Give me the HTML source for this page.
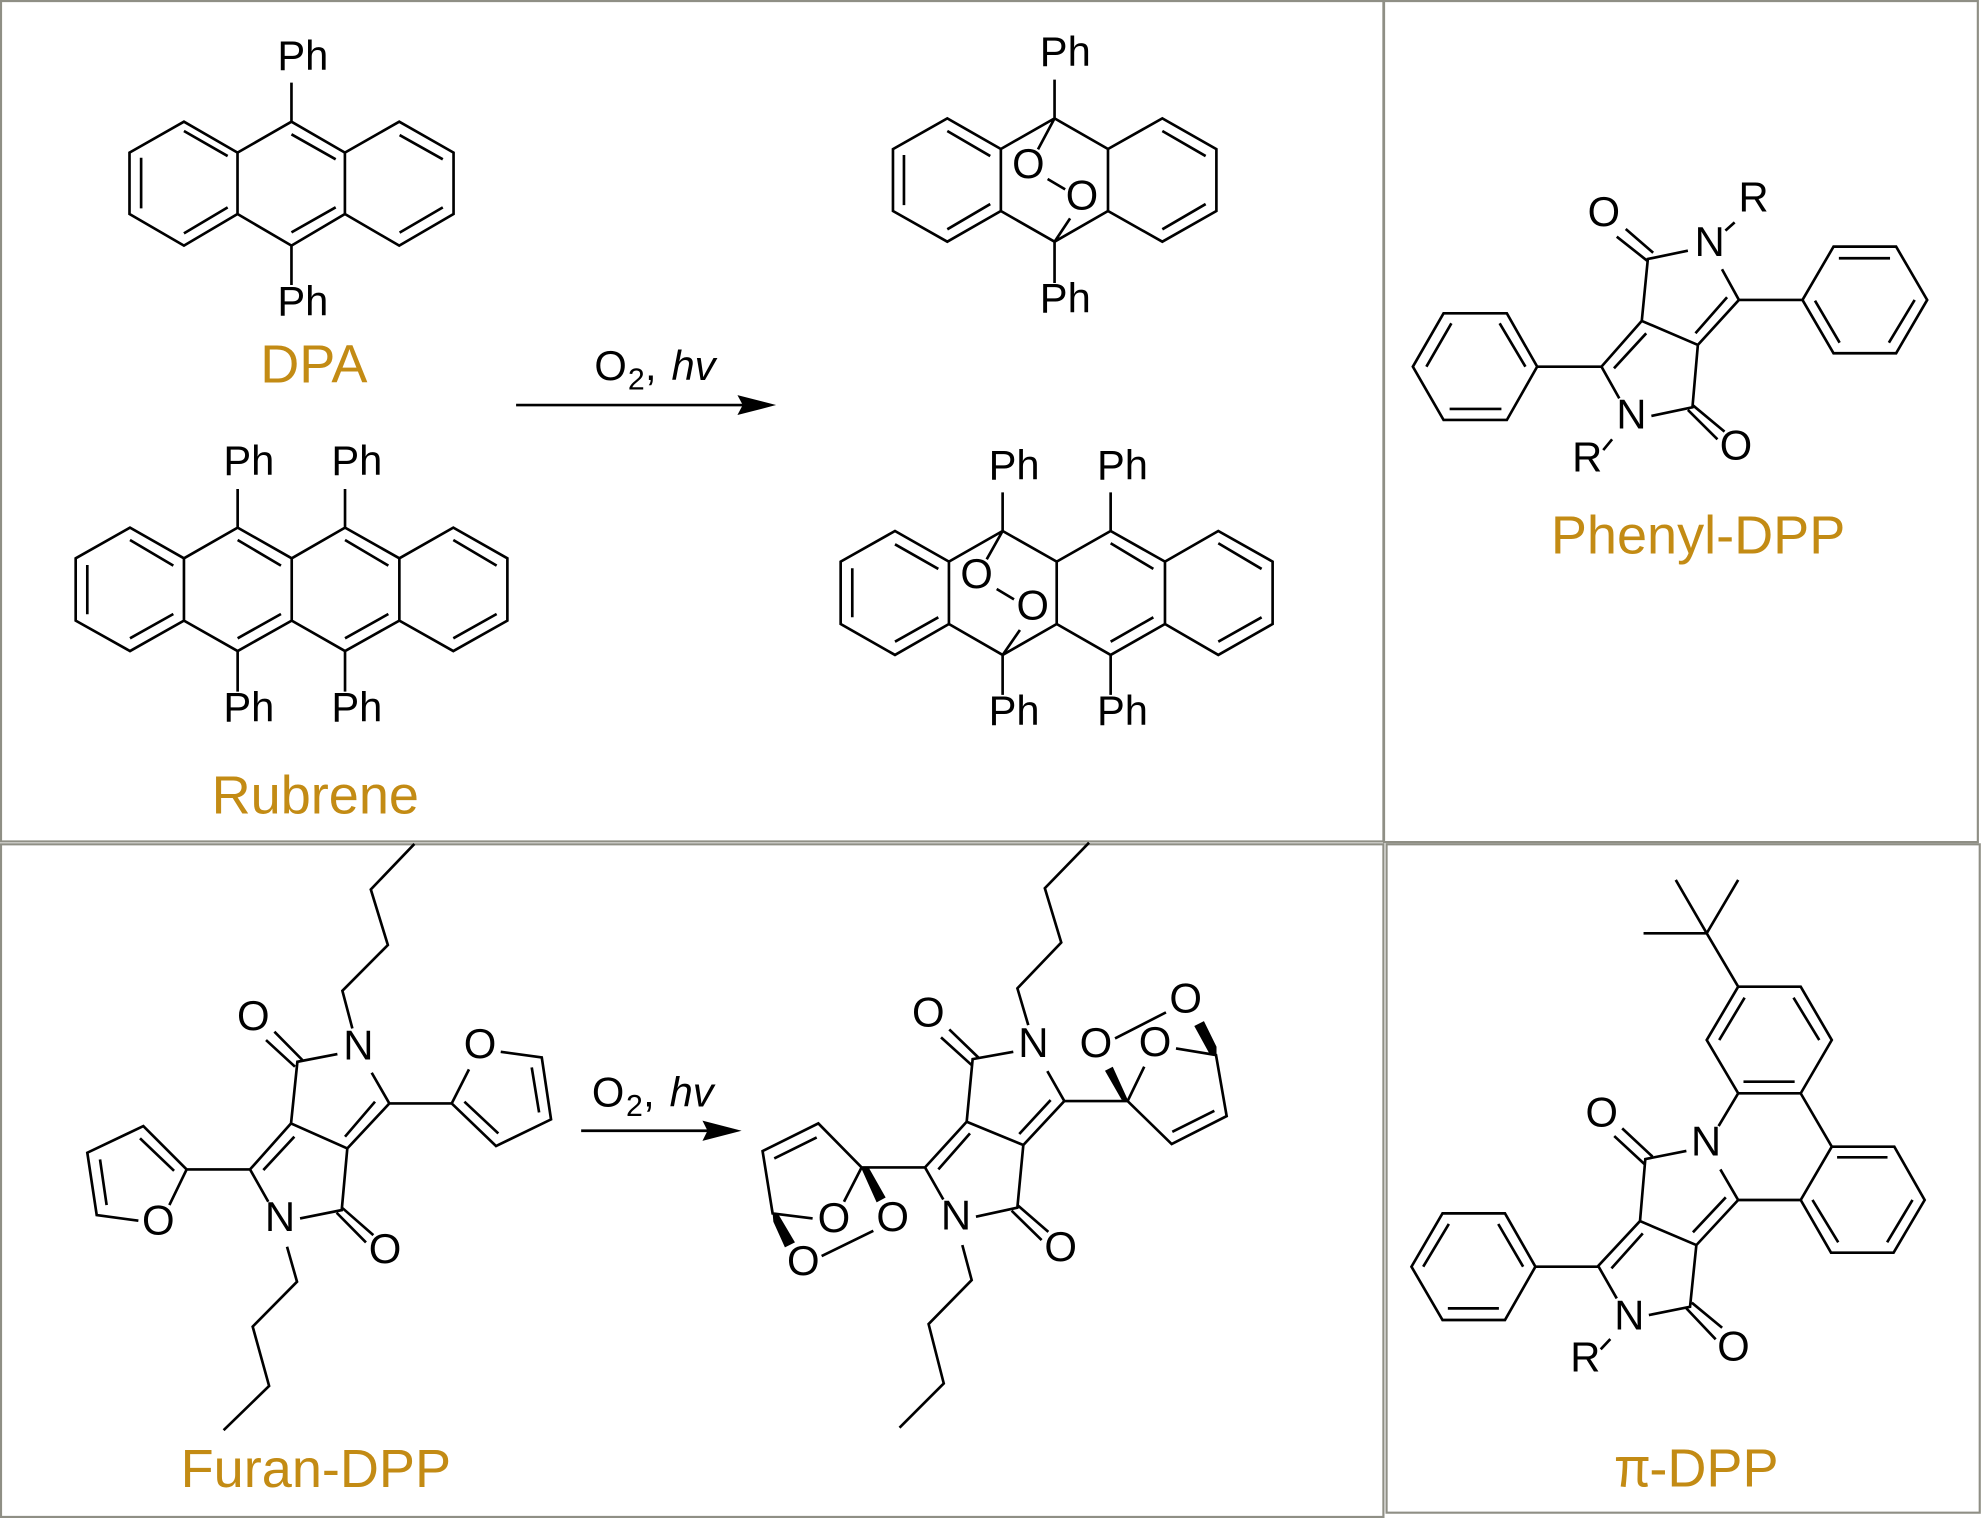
<!DOCTYPE html>
<html><head><meta charset="utf-8"><style>
html,body{margin:0;padding:0;background:#fff}
svg{display:block}
text{font-family:"Liberation Sans",sans-serif;font-size:33px;fill:#000}
.m{text-anchor:middle}
.l{font-size:42.8px;fill:#c38b14}
.b{fill:none;stroke:#000;stroke-width:2.1;stroke-linecap:butt;stroke-linejoin:miter}
.f{fill:none;stroke:#8f8f85;stroke-width:1.7}
</style></head><body>
<svg xmlns="http://www.w3.org/2000/svg" width="1981" height="1518" viewBox="0 0 1568 1201.5">
<rect width="1568" height="1201.5" fill="#fff"/>
<path class="f" d="M.8.8H1095V666H.8ZM1095.5.8H1565.5V666.5H1095.5ZM.8 668.3H1095V1200.7H.8ZM1097.5 668.3H1567V1197.3H1097.5Z"/>

<!-- DPA -->
<path class="b" d="M230.7 96.3L188 120.8L145.6 96.3L102.5 120.8V169.4L145.6 194.4L188 169.4V120.8M188 169.4L230.7 194.4L273 169.4V120.8L230.7 96.3M273 120.8L316 96.3L359 120.8V169.4L316 194.4L273 169.4M111.7 124.8V164.9M145.6 103.7L180.2 123.5M145.6 184.7L180.2 164.1M230.7 106.3L265.7 126.1M230.7 183.9L265.7 164.1M316.3 106.9L350.5 126.1M316.3 184.1L350.5 164.1M230.7 65.4V96.3M230.7 194.4V225.6"/>
<text x="219.5" y="55.4">Ph</text><text x="219.5" y="249.9">Ph</text>
<text class="l" x="206" y="302.9">DPA</text>

<!-- DPA endoperoxide -->
<path class="b" d="M834.7 93.7L792.2 117.9L749.8 93.7L706.8 118V167L749.8 191.3L792.2 167V117.9M792.2 167L834.7 191.3L877 167V117.9L834.7 93.7M877 117.9L920 93.7L962.8 118V167L920 191.3L877 167M715.5 122.7V162.3M749.8 103.7L783.8 123.5M749.8 181.5L783.8 161.5M920 103.7L954.3 123.5M920 181.5L954.3 161.5M834.7 63V93.7M834.7 191.3V224M834.7 93.7L821.6 118.2M829.2 141.7L843.1 149.9M834.7 191.3L847 172.8"/>
<text x="823" y="52.2">Ph</text><text x="823" y="247.2">Ph</text>
<text class="m" x="814" y="141">O</text><text class="m" x="856.4" y="166">O</text>

<!-- Top arrow -->
<path class="b" d="M408.5 320.6H590"/>
<path d="M614.3 320.6L583.7 312.7L587.9 320.6L583.7 328.5Z" fill="#000"/>
<text x="470.5" y="300.8">O</text><text x="497" y="308.2" style="font-size:24px">2</text><text x="510.5" y="300.8">,</text><text x="531.5" y="300.8" font-style="italic">hv</text>

<!-- Rubrene -->
<path class="b" d="M59.9 441.9L102.9 417.6L145.6 441.9L188.1 417.6L230.9 441.9L273.1 417.6L316.1 441.9L358.8 417.6L401.6 441.9V491.2L358.8 515.3L316.1 491.2L273.1 515.3L230.9 491.2L188.1 515.3L145.6 491.2L102.9 515.3L59.9 491.2ZM145.6 441.9V491.2M230.9 441.9V491.2M316.1 441.9V491.2M69.1 447.2V486.2M102.9 427.4L137.2 447.7M102.9 505.2L137.2 486M188.1 427.4L222.4 447.7M188.1 505.2L222.4 486M273.1 427.4L307.4 447.7M273.1 505.2L307.4 486M358.8 427.4L393.1 447.7M358.8 505.2L393.1 486M188.1 387V417.6M273.1 387V417.6M188.1 515.3V547.4M273.1 515.3V547.4"/>
<text x="176.8" y="375.9">Ph</text><text x="262.3" y="375.9">Ph</text><text x="176.8" y="571.2">Ph</text><text x="262.3" y="571.2">Ph</text>
<text class="l" x="167.5" y="644">Rubrene</text>

<!-- Rubrene endoperoxide -->
<path class="b" d="M665.4 444.5L708.4 420.3L751.1 444.5L793.6 420.3L836.4 444.5L879.1 420.3L922.1 444.5L964.3 420.3L1007.3 444.5V493.9L964.3 518.4L922.1 493.9L879.1 518.4L836.4 493.9L793.6 518.4L751.1 493.9L708.4 518.4L665.4 493.9ZM751.1 444.5V493.9M836.4 444.5V493.9M922.1 444.5V493.9M674.6 449.8V488.6M708.4 430.8L742.7 450.3M708.4 507.9L742.7 488.6M879.1 430L912.9 450.3M879.1 507.9L912.9 488.6M964.3 430L998.6 450.3M964.3 507.9L998.6 488.6M793.6 389.7V420.3M879.1 389.7V420.3M793.6 518.4V550M879.1 518.4V550M793.6 420.3L781 442.7M788.9 466.2L802.6 474.4M793.6 518.4L807.3 498.6"/>
<text x="782.5" y="379.4">Ph</text><text x="868.3" y="379.4">Ph</text><text x="782.5" y="573.8">Ph</text><text x="868.3" y="573.8">Ph</text>
<text class="m" x="773" y="465.5">O</text><text class="m" x="817.4" y="490.5">O</text>

<!-- Phenyl-DPP -->
<path class="b" d="M1336 198.4L1304.3 205L1299.5 254L1343.9 273L1376.4 237.4L1363 213.1M1299.5 254L1267.6 290.2L1281.7 315.3M1307.1 329.2L1339.6 322.4L1343.9 273M1367 235.3L1342 263.8M1303 263.8L1277.5 291.5M1376.4 237.4H1426.7M1267.6 290.2H1216.7M1426.7 237.4L1451.3 195.2H1500.8L1525.4 237.4L1500.8 279.6H1451.3ZM1455.5 204.4H1496M1436.6 238L1456.1 271.2M1515.5 237.4L1495.1 271.2M1216.7 290.2L1192.7 248H1142.6L1118.3 290.2L1142.6 332.4H1192.7ZM1148.8 255.9L1129 290.2M1187 255.9L1207.4 290.2M1147.4 323.7H1188.4M1279.7 187.3L1303.7 206.3M1286.8 181.2L1308.5 200M1339.6 320.5L1365 341.6M1336 324.5L1359.4 347.7M1365.7 182.5L1373 176M1269 356.2L1276 347.7"/>
<text class="m" x="1353.2" y="202.8">N</text><text class="m" x="1291.3" y="339.2">N</text>
<text class="m" x="1269.5" y="178.9">O</text><text class="m" x="1374.1" y="363.6">O</text>
<text class="m" x="1388" y="167.5">R</text><text class="m" x="1256.3" y="373.3">R</text>
<text class="l" x="1227.5" y="438">Phenyl-DPP</text>

<!-- Furan-DPP -->
<g transform="translate(47.5 0) scale(1.0053 1) translate(-47.5 0)">
<path class="b" d="M265.9 834.3L234.4 840.4L229.4 889.2L273.7 909L306.8 873.4L292.9 849.1M229.4 889.2L197.1 925.6L211.5 951.2M236.5 964.4L269.3 957.8L273.7 909M295.5 872L271.9 899.7M232 899.7L207.6 926.1M306.8 873.4H355.9M197.1 925.6H147.2M355.9 873.4L369.5 846.4M394.5 832.5L426.8 837L434.1 886L390.8 907.1L355.9 873.4M418.9 844.9L424.7 880.5M392.6 897.1L365.9 872M147.2 925.6L113.1 891.3L69 912.4L76.4 961.7L109.2 966.2M147.2 925.6L133.6 953.8M110.5 901L137.3 926.7M79 917.7L84.2 953.8M209.7 823.2L232.5 844.3M216.3 816.6L238.3 839M269.3 955.7L294.2 977.6M265.3 959.9L288.4 983.4"/>
<text class="m" x="282.4" y="838.5">N</text><text class="m" x="220.7" y="974.4">N</text>
<text class="m" x="199.7" y="815.2">O</text><text class="m" x="303.4" y="999.8">O</text>
<text class="m" x="378.2" y="837.6">O</text><text class="m" x="124.9" y="977.3">O</text>
</g>
<path class="b" d="M278.9 814L271 784.2L307 748L293.5 704L328 668M227.2 986.8L235.1 1014.5L200 1050L213 1097L177 1132"/>
<text class="l" x="143" y="1177">Furan-DPP</text>

<!-- Bottom arrow -->
<path class="b" d="M460 895H565"/>
<path d="M587 895L556 887L560 895L556 903Z" fill="#000"/>
<text x="468.5" y="876">O</text><text x="495.5" y="883.4" style="font-size:24px">2</text><text x="509" y="876">,</text><text x="530" y="876" font-style="italic">hv</text>

<!-- Furan endoperoxide -->
<g transform="translate(585.7 0) scale(1.0053 1) translate(-585.7 0)">
<path class="b" d="M800.9 832.5L768.9 838.3L764.2 887.9L808.8 906.3L841.1 871.5L827.7 847.8M764.2 887.9L731.4 924L745.8 949.4M771.5 963L804.1 955.9L808.8 906.3M830.3 870.7L805.6 897.6M766.8 897.1L741.9 925.6M841.1 871.5H890.9M731.4 924H681.5M744 821.1L768.1 843M750.5 814.8L774.1 837.7M804.1 953.8L828.5 975M799.6 958.3L823.2 981.5M890.9 871.5L925.6 905.5L968.9 883.4L960.5 835.1L929 829.8M926.1 895.8L959.2 879.2M890.9 871.5L904 844.3M881 821.9L921.1 801.3M681.5 924L647.4 889.2L603.5 911.1L611.4 960.4L642.9 964.4M612.7 916.9L646.1 900.3M681.5 924L667.6 951.2M650 994.2L690.7 974.2"/>
<path d="M873.1 847.5L879.2 844.3L891.5 871.5L886.2 870.5ZM943.4 812.1L951 808.2L960.9 828.5V835.1L955.2 833.8ZM680.7 923.5H686.7L700.4 947.8L693.3 951.7ZM611.4 960.4H615.5L629 983.4L621.1 987.3L612 967Z" fill="#000"/>
<text class="m" x="816.7" y="836.6">N</text><text class="m" x="755.8" y="973">N</text>
<text class="m" x="734" y="812.3">O</text><text class="m" x="838.2" y="998">O</text>
<text class="m" x="866" y="836.8">O</text><text class="m" x="912.5" y="835.8">O</text><text class="m" x="936.6" y="801.3">O</text>
<text class="m" x="659.7" y="975.3">O</text><text class="m" x="705.9" y="974.3">O</text><text class="m" x="635.6" y="1009.1">O</text>
</g>
<path class="b" d="M813.9 811.4L805.3 782.3L840 746L827 703L862 667M761.7 985.5L769.1 1013.2L735 1048L747 1095L712 1130"/>

<!-- pi-DPP -->
<path class="b" d="M1326.4 696.5L1350.9 738.7L1375.8 696.5M1300.9 738.7H1350.9L1375.8 781H1425.3L1449.9 823.2L1425.3 865.4H1375.8L1350.9 823.2L1375.8 781M1380.9 789.7L1360.8 823.2M1419.6 789.7L1440 823.2M1380 856.2H1420.5M1375.8 865.4L1360.3 891.3M1425.3 865.4L1449.9 907.6H1499.4L1523.4 949.8L1498.8 991.5H1449.3L1425.3 949.8L1449.9 907.6M1454.1 916H1494M1513.8 949.8L1493.7 983.3M1434.6 949.8L1455 983.3M1425.3 949.8H1375.8L1361.7 925.6M1334.8 911L1302.3 917.4L1298.1 966.5L1342.7 985.5L1375.8 949.8M1366 947.7L1340 975.4M1298.1 966.5L1265 1002L1279.7 1027.7M1300.3 976.2L1275.5 1003.9M1305.1 1040.9L1337.7 1034.3L1342.7 985.5M1277.7 899.2L1302.3 922M1284 893.1L1308 915.5M1339.1 1031.1L1363.1 1050.9M1334.8 1035.6L1358 1060.1M1267 1068L1274.6 1059.9M1265 1002.6H1215.3L1191.2 960.4H1141.8L1117.2 1002.6L1141.8 1044.8H1191.2L1215.3 1002.6M1146.8 968.8L1126.5 1002.6M1185.9 968.8L1205.6 1002.6M1146 1035.6H1186.4"/>
<text class="m" x="1350.4" y="914.4">N</text><text class="m" x="1289.6" y="1052.2">N</text>
<text class="m" x="1267.8" y="891.6">O</text><text class="m" x="1372.1" y="1076.8">O</text>
<text class="m" x="1254.8" y="1085.7">R</text>
<text class="l" x="1278" y="1176.7"><tspan style="font-family:'Noto Sans CJK SC','Liberation Sans',sans-serif">π</tspan><tspan x="1305.5">-DPP</tspan></text>
</svg>
</body></html>
